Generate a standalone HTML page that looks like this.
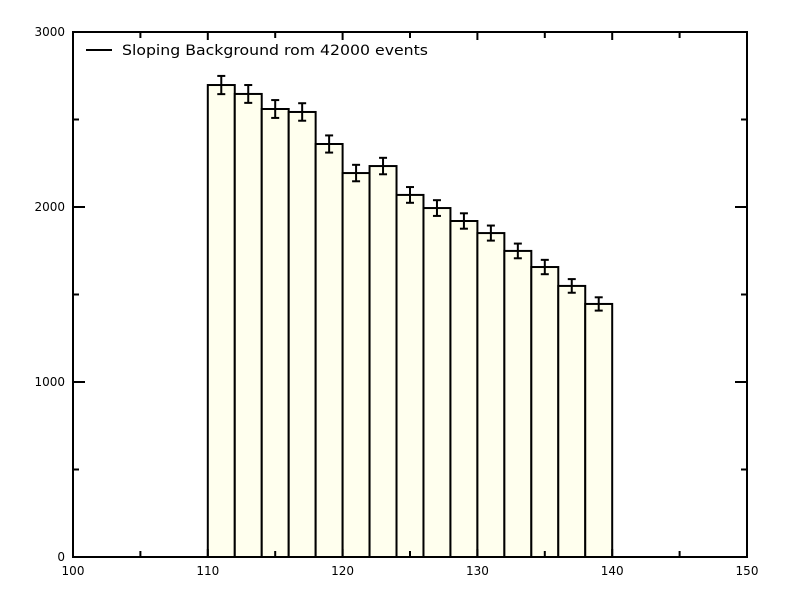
<!DOCTYPE html>
<html><head><meta charset="utf-8"><style>
body{margin:0;background:#fff}
svg text{font-family:"DejaVu Sans","Liberation Sans",sans-serif;fill:#000}
</style></head><body>
<svg id="chart" width="797" height="598" xmlns="http://www.w3.org/2000/svg"></svg>
<script>
const binStarts=[110,112,114,116,118,120,122,124,126,128,130,132,134,136,138];
const counts=[2697,2646,2560,2543,2360,2194,2234,2069,1994,1920,1851,1749,1657,1549,1446];
const errors=[52,51,51,50,49,47,47,45,45,44,43,42,41,39,38];
const xTicks=[100,110,120,130,140,150];
const yTicks=[0,1000,2000,3000];
const binWidth=2;
const L=73,R=747,T=32,B=557;
const xs=v=>L+(v-100)/50*(R-L);
const ys=v=>B-v/3000*(B-T);
const svg=document.getElementById('chart');
const NS='http://www.w3.org/2000/svg';
function mk(tag,attrs,parent){const e=document.createElementNS(NS,tag);for(const k in attrs)e.setAttribute(k,attrs[k]);(parent||svg).appendChild(e);return e;}
const bars=mk('g',{});


binStarts.forEach((s,i)=>{
  const x0=xs(s),x1=xs(s+binWidth),y=ys(counts[i]);
  const r=mk('rect',{x:x0,y:y,width:x1-x0,height:B-y,fill:'#ffffee',stroke:'#000','stroke-width':2},bars);
  
  
});
binStarts.forEach((s,i)=>{
  const cx=xs(s+binWidth/2),y1=ys(counts[i]+errors[i]),y2=ys(counts[i]-errors[i]);
  const g=mk('g',{stroke:'#000','stroke-width':2},bars);
  
  
  mk('line',{x1:cx,x2:cx,y1:y1,y2:y2},g);
  mk('line',{x1:cx-4,x2:cx+4,y1:y1,y2:y1},g);
  mk('line',{x1:cx-4,x2:cx+4,y1:y2,y2:y2},g);
});
const frame=mk('rect',{x:L,y:T,width:R-L,height:B-T,fill:'none',stroke:'#000','stroke-width':2});


const ax=mk('g',{stroke:'#000','stroke-width':2});


for(let v=100;v<=150;v+=5){const x=xs(v);const len=v%10===0?8:6;
  mk('line',{x1:x,x2:x,y1:B,y2:B-len},ax);mk('line',{x1:x,x2:x,y1:T,y2:T+len},ax);}
for(let v=0;v<=3000;v+=500){const y=ys(v);const len=v%1000===0?12:6;
  mk('line',{x1:L,x2:L+len,y1:y,y2:y},ax);mk('line',{x1:R,x2:R-len,y1:y,y2:y},ax);}
xTicks.forEach(v=>{const t=mk('text',{x:xs(v),y:B+18,'text-anchor':'middle','font-size':12});t.textContent=v;
  });
yTicks.forEach(v=>{const t=mk('text',{x:L-8,y:ys(v)+4,'text-anchor':'end','font-size':12});t.textContent=v;
  });
const lg=mk('g',{});


mk('line',{x1:86,x2:112,y1:50,y2:50,stroke:'#000','stroke-width':2},lg);
const lt=mk('text',{x:122,y:55,'font-size':14,textLength:306,lengthAdjust:'spacingAndGlyphs'},lg);lt.textContent='Sloping Background rom 42000 events';
</script>
</body></html>
